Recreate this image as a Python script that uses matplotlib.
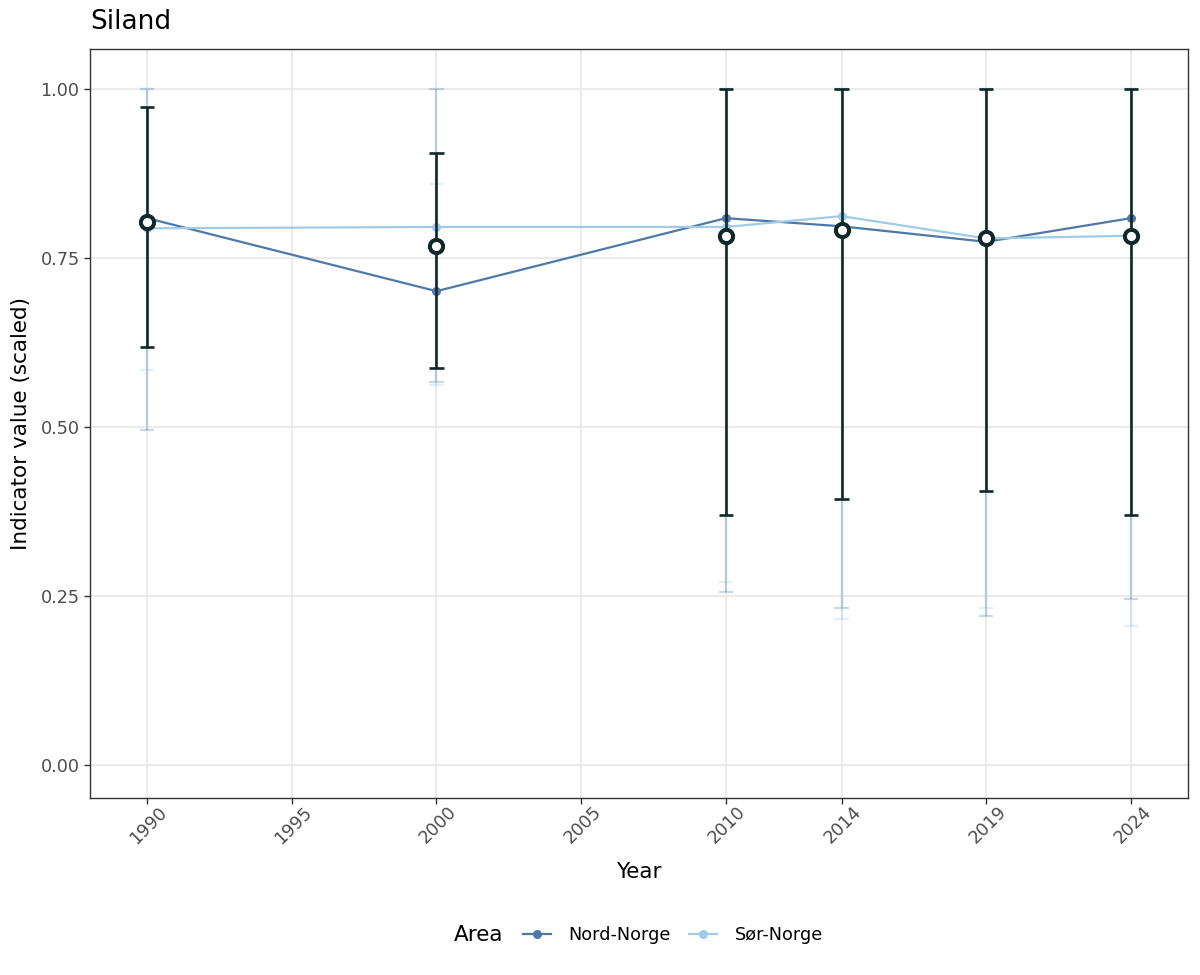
import matplotlib
matplotlib.use("Agg")
import matplotlib.pyplot as plt
import matplotlib.transforms as mtrans
from matplotlib.lines import Line2D
from matplotlib.offsetbox import HPacker

plt.rcParams['font.family'] = ['DejaVu Sans']

years = [1990, 2000, 2010, 2014, 2019, 2024]
x_breaks = [1990, 1995, 2000, 2005, 2010, 2014, 2019, 2024]

nord_val = [0.809, 0.701, 0.809, 0.797, 0.774, 0.809]
nord_low = [0.495, 0.567, 0.256, 0.233, 0.221, 0.245]
nord_high = [1.0, 1.0, 1.0, 1.0, 1.0, 1.0]

sor_val = [0.794, 0.796, 0.796, 0.812, 0.779, 0.783]
sor_low = [0.585, 0.562, 0.271, 0.216, 0.233, 0.205]
sor_high = [1.0, 0.860, 1.0, 1.0, 1.0, 1.0]

total_val = [0.804, 0.768, 0.782, 0.792, 0.779, 0.782]
total_low = [0.619, 0.588, 0.370, 0.393, 0.405, 0.370]
total_high = [0.974, 0.906, 1.0, 1.0, 1.0, 1.0]

c_nord = '#4E79A7'
c_sor = '#A0CBE8'
c_dark = '#10282A'
cap_w = 0.25

fig = plt.figure(figsize=(12, 9.75), dpi=100)
ax = fig.add_axes([0.075, 0.1815, 0.915, 0.7682])

def errbars(xs, lo, hi, color, lw, alpha, z):
    for x, l, h in zip(xs, lo, hi):
        ax.plot([x, x], [l, h], color=color, lw=lw, alpha=alpha, zorder=z, solid_capstyle='butt')
        ax.plot([x - cap_w, x + cap_w], [l, l], color=color, lw=lw, alpha=alpha, zorder=z, solid_capstyle='butt')
        ax.plot([x - cap_w, x + cap_w], [h, h], color=color, lw=lw, alpha=alpha, zorder=z, solid_capstyle='butt')

errbars(years, nord_low, nord_high, c_nord, 1.6, 0.3, 2)
errbars(years, sor_low, sor_high, c_sor, 1.6, 0.3, 2)

ax.plot(years, nord_val, color=c_nord, lw=1.6, marker='o', ms=6.5, mew=0, zorder=3)
ax.plot(years, sor_val, color=c_sor, lw=1.6, marker='o', ms=6.5, mew=0, zorder=3)

errbars(years, total_low, total_high, c_dark, 1.9, 1.0, 4)
ax.plot(years, total_val, ls='none', marker='o', ms=9.5, mew=2.9, mfc='white', mec=c_dark, zorder=5)

ax.set_xlim(1988.025, 2025.975)
ax.set_ylim(-0.0488, 1.0592)
ax.set_xticks(x_breaks)
ax.set_xticklabels([])
# rotated x tick labels, anchored right of each tick like ggplot's angle=45, hjust=1
lab_tr = ax.get_xaxis_transform() + mtrans.ScaledTranslation(11 / 100, -5 / 100, fig.dpi_scale_trans)
for b in x_breaks:
    ax.text(b, 0, str(b), transform=lab_tr, rotation=45, ha='right', va='top',
            rotation_mode='anchor', fontsize=12.7, color='#4D4D4D', clip_on=False)
ax.set_yticks([0, 0.25, 0.5, 0.75, 1.0])
ax.set_yticklabels(['0.00', '0.25', '0.50', '0.75', '1.00'])
ax.tick_params(axis='both', labelsize=12.7, colors='#333333', labelcolor='#4D4D4D',
               length=4, width=1)
ax.grid(True, color='#EBEBEB', lw=1.5, zorder=0)
ax.set_axisbelow(True)
for s in ax.spines.values():
    s.set_color('#333333')
    s.set_linewidth(1)

ax.set_xlabel('Year', fontsize=15.5)
ax.xaxis.set_label_coords(0.5, -0.086)
ax.set_ylabel('Indicator value (scaled)', fontsize=15.5, labelpad=7)
fig.text(0.075, 0.977, 'Siland', fontsize=19, ha='left', va='center')

handles = [Line2D([0], [0], color=c_nord, lw=1.6, marker='o', ms=6.5, mew=0),
           Line2D([0], [0], color=c_sor, lw=1.6, marker='o', ms=6.5, mew=0)]
leg = fig.legend(handles, ['Nord-Norge', 'Sør-Norge'], title='Area', ncol=2,
                 loc='center', bbox_to_anchor=(0.532, 0.041), frameon=False,
                 fontsize=12.7, title_fontsize=15.5, handlelength=1.6,
                 columnspacing=1.0, handletextpad=1.0)
title_box = leg._legend_title_box
handle_box = leg._legend_handle_box
leg._legend_box._children = [HPacker(pad=0, sep=14, children=[title_box, handle_box], align='center')]

fig.savefig('out.png', dpi=100, facecolor='white')
